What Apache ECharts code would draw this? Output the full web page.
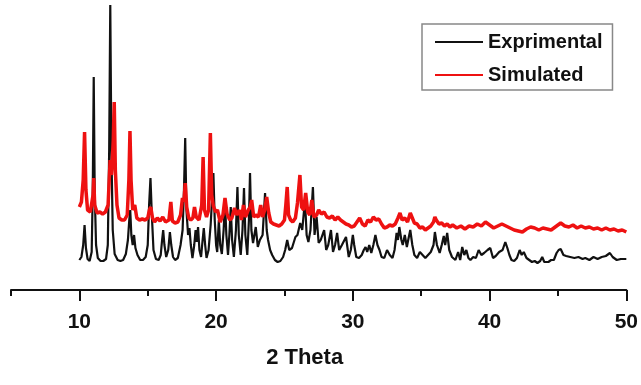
<!DOCTYPE html>
<html>
<head>
<meta charset="utf-8">
<script src="https://cdn.jsdelivr.net/npm/echarts@6/dist/echarts.min.js"></script>
<style>html,body{margin:0;padding:0;background:#fff;}#c{width:641px;height:385px;}</style>
</head>
<body>
<div id="c"></div>
<script>
// 2 Theta (deg) vs relative intensity (arbitrary units)
const exprimental = [
[10.0,30],[10.15,33],[10.28,45],[10.38,65],[10.48,42],[10.6,31],[10.75,29],[10.9,38],[10.98,100],[11.05,213],[11.12,100],[11.22,45],[11.35,32],[11.55,29],[11.75,29],[11.95,31],[12.08,45],[12.18,140],[12.26,285],[12.34,140],[12.44,60],[12.58,36],[12.8,30],[13.0,29],[13.2,30],[13.4,36],[13.55,50],[13.65,70],[13.72,80],[13.8,55],[13.9,45],[14.0,55],[14.1,42],[14.25,35],[14.45,30],[14.65,30],[14.85,33],[15.0,45],[15.1,85],[15.2,112],[15.3,75],[15.42,40],[15.6,31],[15.8,30],[15.95,35],[16.05,50],[16.13,60],[16.22,45],[16.35,33],[16.5,40],[16.62,58],[16.72,45],[16.85,33],[17.0,30],[17.2,32],[17.4,45],[17.55,60],[17.65,100],[17.74,152],[17.83,80],[17.95,55],[18.05,62],[18.15,45],[18.27,32],[18.4,45],[18.5,60],[18.58,48],[18.68,63],[18.78,40],[18.9,33],[19.0,48],[19.1,62],[19.2,45],[19.3,32],[19.45,40],[19.6,65],[19.72,95],[19.8,117],[19.9,70],[20.0,45],[20.08,38],[20.2,70],[20.3,45],[20.42,36],[20.55,60],[20.65,88],[20.75,55],[20.87,35],[20.97,55],[21.07,83],[21.17,50],[21.3,33],[21.45,60],[21.56,103],[21.66,55],[21.8,35],[21.93,60],[22.04,102],[22.14,55],[22.28,35],[22.4,70],[22.48,117],[22.58,60],[22.7,47],[22.9,63],[23.05,43],[23.2,50],[23.4,55],[23.58,97],[23.7,60],[23.8,50],[23.95,40],[24.1,35],[24.3,30],[24.5,28],[24.7,29],[24.9,33],[25.05,40],[25.2,50],[25.35,40],[25.55,42],[25.8,53],[25.95,55],[26.15,67],[26.3,60],[26.5,90],[26.62,55],[26.75,48],[26.9,60],[27.08,103],[27.2,55],[27.35,73],[27.5,47],[27.65,50],[27.9,60],[28.05,40],[28.2,45],[28.4,60],[28.55,38],[28.7,45],[28.85,57],[29.0,40],[29.2,45],[29.5,53],[29.7,33],[29.85,40],[30.0,55],[30.1,45],[30.25,33],[30.45,32],[30.65,35],[30.8,40],[30.93,43],[31.05,38],[31.2,45],[31.35,37],[31.5,45],[31.65,55],[31.8,45],[31.95,40],[32.1,33],[32.3,32],[32.5,40],[32.7,35],[32.9,32],[33.05,40],[33.2,57],[33.3,50],[33.4,63],[33.55,50],[33.65,45],[33.8,55],[33.95,43],[34.05,50],[34.2,60],[34.35,45],[34.5,35],[34.7,32],[34.9,38],[35.1,35],[35.3,32],[35.5,35],[35.7,38],[35.9,45],[36.0,58],[36.15,45],[36.35,37],[36.5,45],[36.65,54],[36.75,45],[36.9,57],[37.05,40],[37.25,33],[37.5,30],[37.7,38],[37.85,30],[38.0,43],[38.15,35],[38.3,40],[38.45,32],[38.6,30],[38.8,33],[39.0,32],[39.2,40],[39.4,35],[39.6,37],[39.85,40],[40.05,42],[40.25,32],[40.45,34],[40.7,38],[40.95,40],[41.15,48],[41.3,42],[41.45,35],[41.6,30],[41.8,29],[42.0,32],[42.2,40],[42.35,35],[42.5,38],[42.7,32],[42.9,30],[43.1,28],[43.3,29],[43.5,27],[43.7,29],[43.85,33],[44.0,28],[44.3,28],[44.5,30],[44.7,30],[44.9,37],[45.05,40],[45.2,41],[45.4,35],[45.6,34],[45.9,33],[46.2,32],[46.5,33],[46.8,31],[47.0,32],[47.3,30],[47.6,33],[47.9,31],[48.2,33],[48.5,34],[48.8,37],[49.0,33],[49.3,30],[49.6,31],[50.0,31]
];
const simulated = [
[10.0,83],[10.15,88],[10.28,110],[10.38,158],[10.48,100],[10.6,80],[10.8,78],[11.0,95],[11.05,112],[11.12,85],[11.3,77],[11.5,78],[11.7,76],[11.9,78],[12.1,85],[12.25,130],[12.35,115],[12.48,150],[12.55,188],[12.63,120],[12.75,85],[12.9,72],[13.1,70],[13.3,70],[13.5,75],[13.62,110],[13.7,159],[13.78,110],[13.9,80],[14.05,85],[14.2,72],[14.4,70],[14.6,71],[14.8,70],[15.0,72],[15.12,80],[15.22,83],[15.35,72],[15.5,68],[15.7,72],[15.9,69],[16.1,73],[16.3,68],[16.55,70],[16.69,88],[16.8,69],[17.0,67],[17.2,68],[17.4,75],[17.54,92],[17.65,88],[17.74,107],[17.85,83],[18.0,72],[18.15,70],[18.3,72],[18.42,83],[18.55,73],[18.75,70],[18.95,85],[19.05,133],[19.15,80],[19.3,73],[19.45,80],[19.58,157],[19.68,95],[19.8,84],[19.95,78],[20.1,80],[20.3,68],[20.5,75],[20.65,92],[20.8,76],[21.0,70],[21.15,72],[21.35,82],[21.5,75],[21.7,80],[21.85,70],[22.0,85],[22.15,73],[22.35,80],[22.5,83],[22.6,90],[22.75,73],[22.9,75],[23.1,73],[23.26,85],[23.4,73],[23.55,80],[23.7,93],[23.85,77],[24.0,68],[24.2,66],[24.4,65],[24.6,64],[24.8,66],[25.0,70],[25.1,85],[25.2,103],[25.3,75],[25.45,70],[25.6,68],[25.8,72],[25.95,87],[26.13,115],[26.25,83],[26.4,80],[26.55,97],[26.7,78],[26.85,75],[27.0,90],[27.15,73],[27.35,75],[27.5,80],[27.7,76],[27.9,78],[28.1,73],[28.3,72],[28.5,74],[28.7,70],[28.9,73],[29.1,70],[29.3,68],[29.5,66],[29.7,65],[29.9,63],[30.1,64],[30.3,68],[30.5,72],[30.7,66],[30.9,64],[31.1,70],[31.3,68],[31.5,73],[31.7,70],[31.9,71],[32.1,66],[32.3,62],[32.5,63],[32.7,65],[32.9,64],[33.1,66],[33.3,72],[33.45,77],[33.6,70],[33.8,72],[34.0,68],[34.2,77],[34.35,72],[34.5,67],[34.7,66],[34.9,62],[35.1,63],[35.3,60],[35.5,62],[35.7,64],[35.9,68],[36.0,73],[36.1,70],[36.3,66],[36.5,67],[36.7,64],[36.9,66],[37.1,63],[37.3,65],[37.6,62],[37.9,64],[38.2,61],[38.5,64],[38.8,63],[39.1,66],[39.4,64],[39.7,68],[40.0,65],[40.3,62],[40.6,64],[40.9,66],[41.2,64],[41.5,62],[41.8,60],[42.1,59],[42.4,58],[42.7,61],[43.0,63],[43.3,62],[43.6,60],[43.9,62],[44.2,61],[44.5,60],[44.8,63],[45.0,65],[45.2,67],[45.5,64],[45.8,63],[46.1,65],[46.4,62],[46.7,64],[47.0,62],[47.3,63],[47.6,61],[47.9,62],[48.2,60],[48.5,62],[48.8,60],[49.1,61],[49.4,59],[49.7,60],[50.0,58]
];
const majorTicks = [10, 20, 30, 40, 50];
const minorTicks = [5, 15, 25, 35, 45];
const seriesNames = ['Exprimental', 'Simulated'];
const seriesColors = ['#111111', '#ee1111'];

const FONT = '"Liberation Sans", Arial, sans-serif';
const chart = echarts.init(document.getElementById('c'), null, {renderer: 'canvas'});
chart.setOption({
  animation: false,
  backgroundColor: '#ffffff',
  grid: {left: 11, right: 13, top: 0, bottom: 95},
  legend: {
    orient: 'vertical',
    left: 422, top: 24,
    padding: [7, 10, 4, 13],
    itemGap: 11,
    itemWidth: 48, itemHeight: 2,
    icon: 'rect',
    borderColor: '#888', borderWidth: 1.5,
    data: seriesNames,
    textStyle: {fontFamily: FONT, fontWeight: 'bold', fontSize: 20, color: '#111', lineHeight: 22}
  },
  xAxis: [{
    type: 'value', min: 5, max: 50, interval: 5,
    position: 'bottom',
    splitLine: {show: false},
    axisLine: {show: true, lineStyle: {color: '#111', width: 2}},
    axisTick: {show: true, length: 6, lineStyle: {color: '#111', width: 2}, customValues: minorTicks},
    axisLabel: {show: true, customValues: majorTicks, margin: 22, fontFamily: FONT, fontWeight: 'bold', fontSize: 21, color: '#111'},
    name: '2 Theta', nameLocation: 'middle', nameGap: 57,
    nameTextStyle: {fontFamily: FONT, fontWeight: 'bold', fontSize: 22, color: '#111', padding: [0, 28, 0, 0]}
  }, {
    type: 'value', min: 5, max: 50, interval: 5,
    position: 'bottom',
    splitLine: {show: false},
    axisLine: {show: false},
    axisTick: {show: true, length: 11, lineStyle: {color: '#111', width: 2}, customValues: majorTicks},
    axisLabel: {show: false}
  }],
  yAxis: {type: 'value', min: 0, max: 290, show: false},
  series: [{
    name: seriesNames[0], type: 'line', data: exprimental, xAxisIndex: 0,
    showSymbol: false, symbol: 'none', color: seriesColors[0],
    lineStyle: {color: seriesColors[0], width: 2.2}
  }, {
    name: seriesNames[1], type: 'line', data: simulated, xAxisIndex: 0,
    showSymbol: false, symbol: 'none', color: seriesColors[1],
    lineStyle: {color: seriesColors[1], width: 3.5}
  }]
});
</script>
</body>
</html>
